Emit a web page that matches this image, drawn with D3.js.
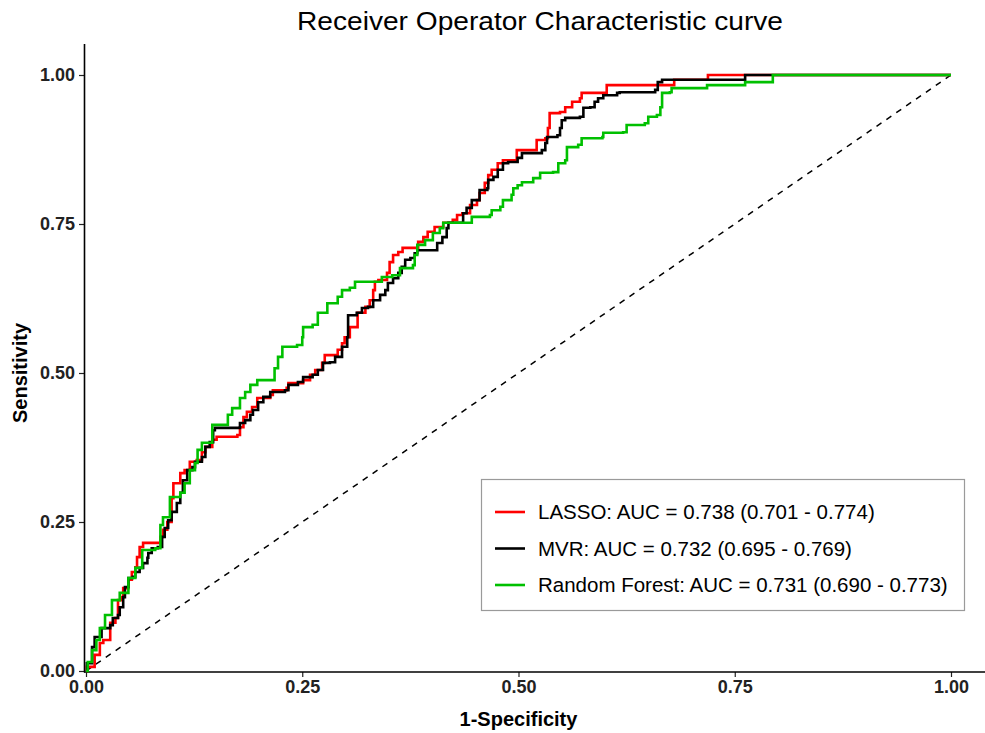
<!DOCTYPE html>
<html>
<head>
<meta charset="utf-8">
<script src="https://cdn.jsdelivr.net/npm/d3@7/dist/d3.min.js"></script>
<style>
body { margin: 0; background: #fff; }
svg text { font-family: "Liberation Sans", Arial, sans-serif; }
</style>
</head>
<body>
<svg id="chart" width="985" height="733"></svg>
<script>
// ROC vertices, [1-specificity, sensitivity]
var lassoRoc = [[0,0],[0.001,0.007],[0.010,0.027],[0.016,0.047],[0.020,0.052],[0.028,0.081],[0.034,0.089],[0.037,0.119],[0.042,0.124],[0.043,0.139],[0.049,0.153],[0.053,0.166],[0.057,0.174],[0.059,0.191],[0.062,0.208],[0.066,0.215],[0.082,0.215],[0.086,0.225],[0.089,0.237],[0.094,0.250],[0.099,0.290],[0.101,0.315],[0.109,0.332],[0.114,0.337],[0.120,0.351],[0.128,0.354],[0.134,0.367],[0.138,0.376],[0.146,0.388],[0.151,0.393],[0.175,0.396],[0.178,0.409],[0.182,0.426],[0.186,0.435],[0.192,0.443],[0.198,0.458],[0.213,0.463],[0.216,0.471],[0.232,0.475],[0.234,0.483],[0.251,0.488],[0.259,0.497],[0.265,0.505],[0.273,0.517],[0.276,0.530],[0.286,0.530],[0.291,0.539],[0.296,0.550],[0.299,0.560],[0.305,0.577],[0.314,0.601],[0.323,0.611],[0.328,0.622],[0.332,0.639],[0.334,0.653],[0.338,0.656],[0.348,0.668],[0.351,0.686],[0.355,0.698],[0.361,0.703],[0.366,0.710],[0.380,0.710],[0.384,0.720],[0.390,0.728],[0.395,0.737],[0.403,0.745],[0.413,0.752],[0.424,0.757],[0.429,0.765],[0.435,0.768],[0.444,0.782],[0.452,0.790],[0.455,0.802],[0.461,0.819],[0.465,0.832],[0.469,0.841],[0.476,0.852],[0.482,0.857],[0.498,0.874],[0.519,0.874],[0.521,0.891],[0.531,0.894],[0.534,0.911],[0.536,0.936],[0.548,0.938],[0.554,0.946],[0.562,0.955],[0.571,0.961],[0.573,0.970],[0.598,0.970],[0.602,0.983],[0.677,0.983],[0.680,0.992],[0.719,0.992],[0.719,1],[1,1]];
var mvrRoc = [[0,0],[0.001,0.013],[0.007,0.040],[0.010,0.057],[0.018,0.072],[0.028,0.077],[0.031,0.089],[0.037,0.094],[0.039,0.107],[0.043,0.124],[0.045,0.141],[0.049,0.156],[0.054,0.158],[0.057,0.166],[0.062,0.173],[0.066,0.181],[0.071,0.190],[0.072,0.198],[0.076,0.206],[0.083,0.208],[0.088,0.225],[0.091,0.240],[0.095,0.253],[0.099,0.267],[0.105,0.282],[0.109,0.299],[0.112,0.320],[0.117,0.337],[0.123,0.342],[0.126,0.351],[0.134,0.359],[0.138,0.376],[0.143,0.384],[0.147,0.404],[0.149,0.408],[0.175,0.408],[0.178,0.416],[0.184,0.421],[0.190,0.430],[0.193,0.438],[0.199,0.451],[0.205,0.460],[0.213,0.468],[0.230,0.471],[0.234,0.480],[0.245,0.485],[0.251,0.493],[0.262,0.497],[0.268,0.505],[0.274,0.517],[0.282,0.518],[0.288,0.527],[0.296,0.544],[0.302,0.560],[0.303,0.597],[0.313,0.601],[0.319,0.609],[0.326,0.611],[0.332,0.622],[0.340,0.631],[0.346,0.639],[0.349,0.651],[0.355,0.659],[0.361,0.668],[0.365,0.678],[0.369,0.690],[0.375,0.693],[0.380,0.701],[0.383,0.706],[0.401,0.706],[0.406,0.718],[0.412,0.728],[0.417,0.743],[0.419,0.752],[0.432,0.752],[0.436,0.768],[0.440,0.777],[0.446,0.790],[0.455,0.807],[0.464,0.810],[0.465,0.824],[0.471,0.829],[0.476,0.841],[0.482,0.852],[0.488,0.854],[0.499,0.861],[0.504,0.869],[0.527,0.874],[0.531,0.886],[0.533,0.896],[0.545,0.899],[0.548,0.911],[0.550,0.924],[0.554,0.928],[0.571,0.930],[0.575,0.945],[0.583,0.946],[0.588,0.955],[0.592,0.961],[0.598,0.966],[0.614,0.970],[0.617,0.971],[0.658,0.975],[0.661,0.988],[0.666,0.992],[0.760,0.992],[0.762,1],[1,1]];
var rfRoc = [[0,0],[0.002,0.015],[0.007,0.035],[0.012,0.052],[0.016,0.072],[0.022,0.094],[0.030,0.119],[0.039,0.131],[0.049,0.156],[0.057,0.173],[0.065,0.203],[0.080,0.206],[0.086,0.245],[0.089,0.258],[0.097,0.292],[0.109,0.299],[0.114,0.315],[0.120,0.337],[0.126,0.349],[0.129,0.371],[0.134,0.383],[0.146,0.413],[0.163,0.413],[0.164,0.430],[0.169,0.441],[0.178,0.458],[0.184,0.468],[0.190,0.480],[0.198,0.488],[0.210,0.488],[0.218,0.508],[0.222,0.527],[0.227,0.544],[0.244,0.547],[0.250,0.560],[0.251,0.577],[0.262,0.581],[0.268,0.601],[0.279,0.617],[0.291,0.628],[0.296,0.639],[0.305,0.643],[0.311,0.653],[0.338,0.653],[0.342,0.661],[0.354,0.664],[0.363,0.676],[0.378,0.681],[0.380,0.698],[0.383,0.715],[0.392,0.723],[0.401,0.735],[0.409,0.743],[0.413,0.752],[0.444,0.752],[0.446,0.762],[0.467,0.765],[0.469,0.773],[0.479,0.779],[0.482,0.790],[0.492,0.799],[0.494,0.810],[0.499,0.815],[0.504,0.820],[0.517,0.827],[0.525,0.836],[0.540,0.837],[0.546,0.852],[0.554,0.857],[0.556,0.879],[0.569,0.883],[0.573,0.894],[0.597,0.896],[0.598,0.903],[0.621,0.904],[0.625,0.916],[0.646,0.919],[0.650,0.930],[0.660,0.933],[0.664,0.946],[0.666,0.970],[0.675,0.971],[0.677,0.978],[0.716,0.978],[0.718,0.983],[0.760,0.983],[0.762,0.988],[0.793,0.988],[0.794,1],[1,1]];

var modelNames = ['LASSO', 'MVR', 'Random Forest'];
var aucValues = ['0.738', '0.732', '0.731'];
var aucLower = ['0.701', '0.695', '0.690'];
var aucUpper = ['0.774', '0.769', '0.773'];
var axisTicks = [0, 0.25, 0.5, 0.75, 1];
var chanceLine = [[0, 0], [1, 1]];

var colors = ['#ff0000', '#000000', '#00c000'];

var svg = d3.select('#chart');
var x = d3.scaleLinear().domain([0, 1]).range([86, 951]);
var y = d3.scaleLinear().domain([0, 1]).range([671, 75]);

// title
svg.append('text')
	.attr('x', 540).attr('y', 30)
	.attr('text-anchor', 'middle')
	.attr('font-size', 26)
	.attr('textLength', 486).attr('lengthAdjust', 'spacingAndGlyphs')
	.text('Receiver Operator Characteristic curve');

// axes
var yAxis = d3.axisLeft(y).tickValues(axisTicks).tickFormat(d3.format('.2f')).tickSize(5).tickPadding(4);
var xAxis = d3.axisBottom(x).tickValues(axisTicks).tickFormat(d3.format('.2f')).tickSize(5).tickPadding(3);

var gy = svg.append('g').attr('transform', 'translate(84,0)').call(yAxis);
var gx = svg.append('g').attr('transform', 'translate(0,672)').call(xAxis);
[gx, gy].forEach(function(g) {
	g.select('.domain').remove();
	g.selectAll('.tick line').attr('stroke', '#222').attr('stroke-width', 1.2);
	g.selectAll('.tick text').attr('fill', '#222').attr('font-size', 18).attr('font-weight', 'bold')
		.style('font-family', '"Liberation Sans", Arial, sans-serif');
});
svg.append('line').attr('x1', 84.5).attr('x2', 84.5).attr('y1', 44).attr('y2', 672.5)
	.attr('stroke', '#000').attr('stroke-width', 1.6);
svg.append('line').attr('x1', 84).attr('x2', 985).attr('y1', 672).attr('y2', 672)
	.attr('stroke', '#000').attr('stroke-width', 1.6);

svg.append('text')
	.attr('transform', 'translate(27,' + y(0.5) + ') rotate(-90)')
	.attr('text-anchor', 'middle')
	.attr('font-size', 20).attr('font-weight', 'bold')
	.text('Sensitivity');
svg.append('text')
	.attr('x', x(0.5)).attr('y', 726)
	.attr('text-anchor', 'middle')
	.attr('font-size', 20).attr('font-weight', 'bold')
	.text('1-Specificity');

// chance diagonal
var line = d3.line().x(function(d) { return x(d[0]); }).y(function(d) { return y(d[1]); });
svg.append('path').datum(chanceLine)
	.attr('d', line)
	.attr('fill', 'none').attr('stroke', '#000').attr('stroke-width', 1.5)
	.attr('stroke-dasharray', '6,6');

// roc curves
var stepLine = d3.line().curve(d3.curveStepAfter)
	.x(function(d) { return x(d[0]); }).y(function(d) { return y(d[1]); });
[lassoRoc, mvrRoc, rfRoc].forEach(function(roc, i) {
	svg.append('path').datum(roc)
		.attr('d', stepLine)
		.attr('fill', 'none').attr('stroke', colors[i]).attr('stroke-width', 2.6)
		.attr('stroke-linejoin', 'miter');
});

// legend
var legend = svg.append('g');
legend.append('rect').attr('x', 481.5).attr('y', 479.5).attr('width', 483).attr('height', 131)
	.attr('fill', '#fff').attr('stroke', '#9a9a9a').attr('stroke-width', 1.2);
modelNames.forEach(function(name, i) {
	var ly = 512 + i * 36.5;
	legend.append('line').attr('x1', 495).attr('x2', 525).attr('y1', ly).attr('y2', ly)
		.attr('stroke', colors[i]).attr('stroke-width', 2.6);
	legend.append('text').attr('x', 538).attr('y', ly + 7)
		.attr('font-size', 20.5)
		.text(name + ': AUC = ' + aucValues[i] + ' (' + aucLower[i] + ' - ' + aucUpper[i] + ')');
});
</script>
</body>
</html>
